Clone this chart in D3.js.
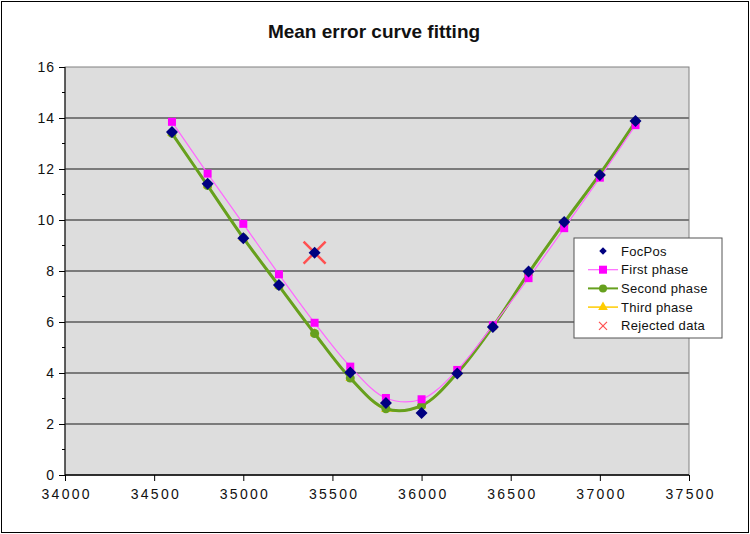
<!DOCTYPE html>
<html>
<head>
<meta charset="utf-8">
<script src="https://cdn.jsdelivr.net/npm/d3@7"></script>
<style>
  body { margin: 0; background: #fff; }
  svg { font-family: "Liberation Sans", Arial, sans-serif; }
</style>
</head>
<body>
<div id="chart"></div>
<script>
// focus positions and the fitted values
let focPos = [34600, 34800, 35000, 35200, 35400, 35600, 35800, 36000, 36200, 36400, 36600, 36800, 37000, 37200];
let measured = [13.45, 11.42, 9.28, 7.45, 8.72, 4.02, 2.82, 2.43, 3.98, 5.8, 7.98, 9.92, 11.76, 13.88];
let firstPhase = [13.85, 11.82, 9.85, 7.87, 5.97, 4.25, 3.02, 2.97, 4.12, 5.87, 7.72, 9.68, 11.66, 13.72];
let secondPhase = [13.4, 11.35, 9.3, 7.42, 5.55, 3.8, 2.6, 2.72, 4.0, 5.82, 7.92, 9.9, 11.8, 13.86];
let thirdPhase = [13.4, 11.35, 9.3, 7.42, 5.55, 3.8, 2.58, 2.72, 4.0, 5.82, 7.92, 9.9, 11.8, 13.86];
let rejected = [{ x: 35400, y: 8.72 }];
let xTicks = [34000, 34500, 35000, 35500, 36000, 36500, 37000, 37500];
let yTicks = [0, 2, 4, 6, 8, 10, 12, 14, 16];

let W = 750, H = 534;
let svg = d3.select("#chart").append("svg")
    .attr("width", W)
    .attr("height", H);

// outer frame
svg.append("rect")
    .attr("x", 1.5).attr("y", 1.5)
    .attr("width", W - 3).attr("height", H - 3)
    .attr("fill", "#fff")
    .attr("stroke", "#000")
    .attr("stroke-width", 1);

svg.append("text")
    .attr("x", 374).attr("y", 38)
    .attr("text-anchor", "middle")
    .attr("font-size", "19px")
    .attr("font-weight", "bold")
    .attr("fill", "#111")
    .text("Mean error curve fitting");

let x = d3.scaleLinear().domain([34000, 37500]).range([65, 689]);
let y = d3.scaleLinear().domain([0, 16]).range([475, 67]);

// plot area
svg.append("rect")
    .attr("x", x(34000)).attr("y", y(16))
    .attr("width", x(37500) - x(34000)).attr("height", y(0) - y(16))
    .attr("fill", "#dddddd")
    .attr("stroke", "#808080")
    .attr("stroke-width", 1);

// gridlines
svg.append("g").selectAll("line").data(yTicks.filter(d => d > 0 && d < 16)).enter()
    .append("line")
    .attr("x1", x(34000)).attr("x2", x(37500))
    .attr("y1", d => y(d)).attr("y2", d => y(d))
    .attr("stroke", "#7a7a7a")
    .attr("stroke-width", 2);

// y axis
let yAxis = svg.append("g")
    .attr("transform", `translate(${x(34000)},0)`)
    .call(d3.axisLeft(y).tickValues(yTicks).tickSize(6).tickPadding(5));
yAxis.select(".domain").attr("stroke", "#000").attr("d", `M0,${y(16)}V${y(0)}`);
yAxis.selectAll("text").attr("font-size", "14px").attr("fill", "#111")
    .attr("font-family", "Liberation Sans, Arial").attr("letter-spacing", "1px").attr("dx", "1px");
svg.append("g").selectAll("line").data([1, 3, 5, 7, 9, 11, 13, 15]).enter()
    .append("line")
    .attr("x1", x(34000) - 3).attr("x2", x(34000))
    .attr("y1", d => y(d)).attr("y2", d => y(d))
    .attr("stroke", "#000");

// x axis
let xAxis = svg.append("g")
    .attr("transform", `translate(0,${y(0)})`)
    .call(d3.axisBottom(x).tickValues(xTicks).tickFormat(d3.format("d")).tickSize(6).tickPadding(8));
xAxis.select(".domain").attr("stroke", "#000").attr("stroke-width", 1.5).attr("d", `M${x(34000)},0H${x(37500)}`);
xAxis.selectAll("text").attr("font-size", "14px").attr("fill", "#111")
    .attr("font-family", "Liberation Sans, Arial").attr("letter-spacing", "2.3px").attr("dx", "1.2px");

let curve = d3.line()
    .x((d, i) => x(focPos[i]))
    .y(d => y(d))
    .curve(d3.curveCatmullRom.alpha(0.5));

// third phase (under green)
svg.append("path").attr("d", curve(thirdPhase))
    .attr("fill", "none").attr("stroke", "#ffcc00").attr("stroke-width", 2);
svg.append("g").selectAll("path").data(thirdPhase).enter()
    .append("path")
    .attr("d", d3.symbol(d3.symbolTriangle, 40))
    .attr("transform", (d, i) => `translate(${x(focPos[i])},${y(d)})`)
    .attr("fill", "#ffcc00");

// second phase
svg.append("path").attr("d", curve(secondPhase))
    .attr("fill", "none").attr("stroke", "#66a01e").attr("stroke-width", 3);
svg.append("g").selectAll("circle").data(secondPhase).enter()
    .append("circle")
    .attr("cx", (d, i) => x(focPos[i]))
    .attr("cy", d => y(d))
    .attr("r", 4.5)
    .attr("fill", "#66a01e");

// first phase
svg.append("path").attr("d", curve(firstPhase))
    .attr("fill", "none").attr("stroke", "#ff66ff").attr("stroke-width", 1.2);
svg.append("g").selectAll("rect").data(firstPhase).enter()
    .append("rect")
    .attr("x", (d, i) => x(focPos[i]) - 4)
    .attr("y", d => y(d) - 4)
    .attr("width", 8).attr("height", 8)
    .attr("fill", "#ff00ff");

// rejected data
svg.append("g").selectAll("path").data(rejected).enter()
    .append("path")
    .attr("d", d => {
        let cx = x(d.x), cy = y(d.y), s = 11;
        return `M${cx - s},${cy - s}L${cx + s},${cy + s}M${cx - s},${cy + s}L${cx + s},${cy - s}`;
    })
    .attr("stroke", "#ff5050").attr("stroke-width", 2.5);

// measured points
svg.append("g").selectAll("path").data(measured).enter()
    .append("path")
    .attr("d", d3.symbol(d3.symbolSquare, 72))
    .attr("transform", (d, i) => `translate(${x(focPos[i])},${y(d)}) rotate(45)`)
    .attr("fill", "#000080");

// legend
let lg = svg.append("g").attr("transform", "translate(574,238)");
lg.append("rect")
    .attr("width", 148).attr("height", 100)
    .attr("fill", "#fff").attr("stroke", "#555").attr("stroke-width", 1);
let names = ["FocPos", "First phase", "Second phase", "Third phase", "Rejected data"];
let rowY = d => 13 + d * 18.7;
names.forEach((n, i) => {
    let cy = rowY(i), g = lg.append("g");
    if (i == 1) {
        g.append("line").attr("x1", 14).attr("x2", 44).attr("y1", cy).attr("y2", cy).attr("stroke", "#ff66ff").attr("stroke-width", 1.2);
        g.append("rect").attr("x", 25).attr("y", cy - 4).attr("width", 8).attr("height", 8).attr("fill", "#ff00ff");
    } else if (i == 2) {
        g.append("line").attr("x1", 14).attr("x2", 44).attr("y1", cy).attr("y2", cy).attr("stroke", "#66a01e").attr("stroke-width", 2);
        g.append("circle").attr("cx", 29).attr("cy", cy).attr("r", 4).attr("fill", "#66a01e");
    } else if (i == 3) {
        g.append("line").attr("x1", 14).attr("x2", 44).attr("y1", cy).attr("y2", cy).attr("stroke", "#ffcc00").attr("stroke-width", 1.5);
        g.append("path").attr("d", d3.symbol(d3.symbolTriangle, 40)).attr("transform", `translate(29,${cy})`).attr("fill", "#ffcc00");
    } else if (i == 0) {
        g.append("path").attr("d", d3.symbol(d3.symbolSquare, 28)).attr("transform", `translate(29,${cy}) rotate(45)`).attr("fill", "#000080");
    } else {
        g.append("path").attr("d", `M25,${cy - 4}L33,${cy + 4}M25,${cy + 4}L33,${cy - 4}`).attr("stroke", "#ff5050").attr("stroke-width", 1.2);
    }
    g.append("text").attr("x", 47).attr("y", cy + 4.5)
        .attr("font-size", "13px").attr("letter-spacing", "0.3px").attr("fill", "#111").text(n);
});
</script>
</body>
</html>
